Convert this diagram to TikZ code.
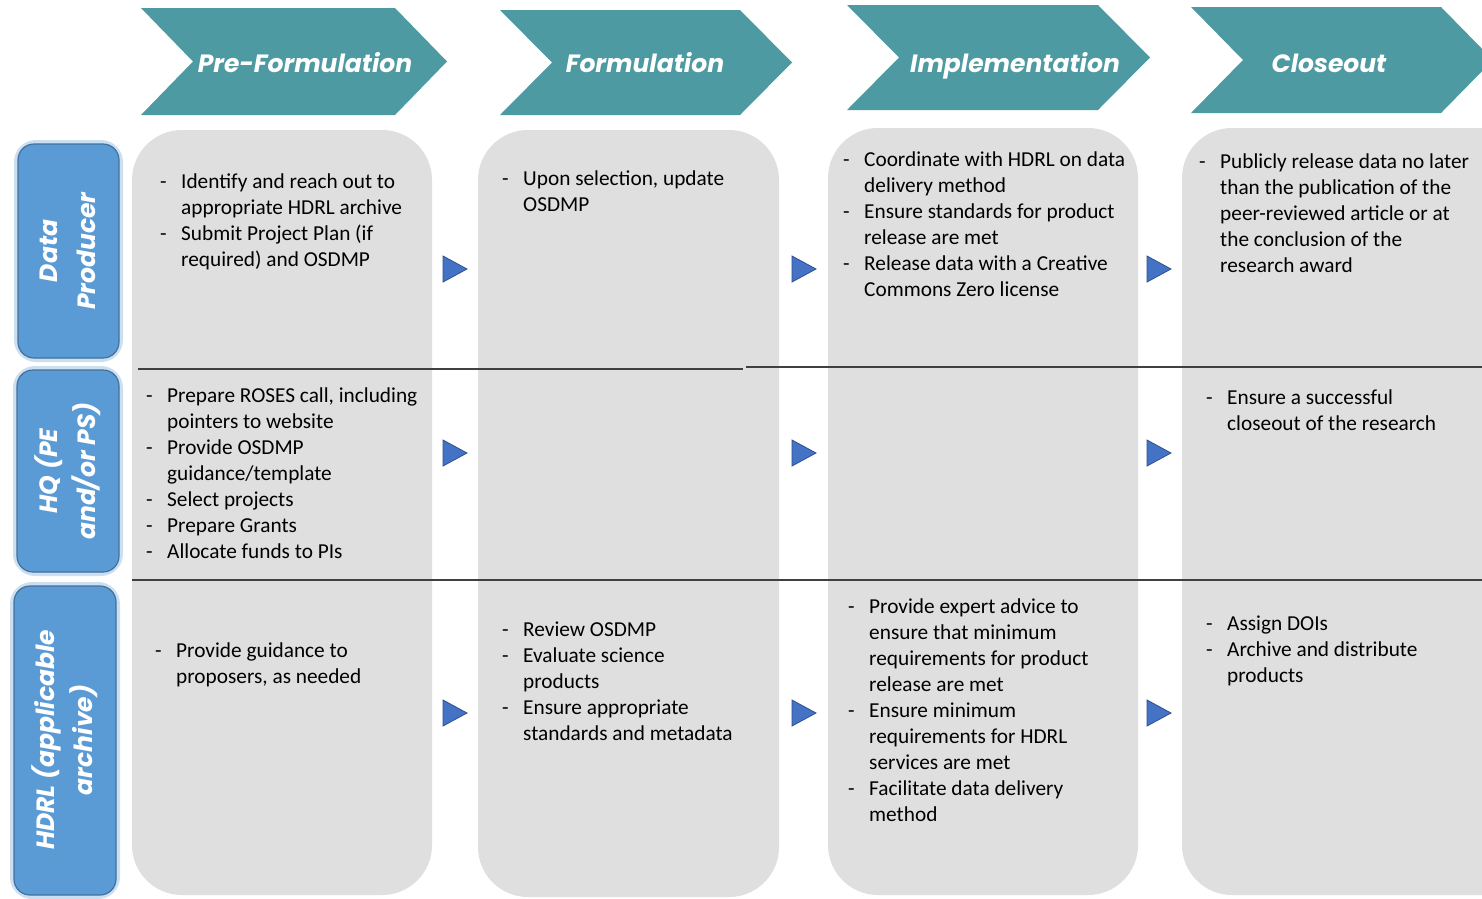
\documentclass[tikz,border=0pt]{standalone}
\usepackage{fontspec}
\setmainfont{Carlito}
\newfontfamily\headfont{Poppins}
\usetikzlibrary{calc}
\definecolor{teal1}{HTML}{4E9AA2}
\definecolor{cellgray}{HTML}{DFDFDF}
\definecolor{lblue}{HTML}{5B9BD5}
\definecolor{lbluedark}{HTML}{41719C}
\definecolor{triblue}{HTML}{4472C4}
\definecolor{tribluedark}{HTML}{2F528F}
\definecolor{rule}{HTML}{404040}
\tikzset{
  chev/.style={fill=teal1, draw=none},
  chevtext/.style={font=\headfont\bfseries\itshape\fontsize{25}{30}\selectfont, text=white, inner sep=0pt, anchor=base},
  cell/.style={fill=cellgray, draw=none, rounded corners=50pt},
  lbl/.style={fill=lblue, draw=lbluedark, line width=1.2pt, rounded corners=16pt},
  lblglow/.style={draw=lblue!45, line width=8pt, rounded corners=18pt, opacity=0.7},
  lbltext/.style={font=\headfont\bfseries\itshape\fontsize{25}{38}\selectfont, text=white, rotate=90, align=center, inner sep=0pt},
  tri/.style={fill=triblue, draw=tribluedark, line width=0.8pt, line join=miter},
  divider/.style={draw=rule, line width=1.8pt},
  items/.style={font=\fontsize{21.3}{26}\selectfont, anchor=base west, inner sep=0pt, text=black},
}
\newcommand{\itemlist}[1]{\renewcommand{\arraystretch}{1}\begin{tabular}[t]{@{}p{21pt}@{}l@{}}#1\end{tabular}}
\begin{document}
\begin{tikzpicture}[x=1pt,y=-1pt]
\useasboundingbox (0,0) rectangle (1482,898);
\fill[white] (0,0) rectangle (1482,898);
% chevrons
\newcommand{\chevron}[6]{% left notch end tip top bottom
  \path[chev] (#1,#5) -- (#3,#5) -- (#4,{(#5+#6)/2}) -- (#3,#6) -- (#1,#6) -- (#2,{(#5+#6)/2}) -- cycle;}
\chevron{141}{193}{395}{447}{8}{115}
\chevron{500}{552}{740}{792}{10}{115}
\chevron{847}{899}{1098}{1150}{5}{110}
\chevron{1191}{1243}{1441}{1493}{7}{113}
\node[chevtext] (h1) at (305,72) {Pre-Formulation};
\node[chevtext] (h2) at (645,72) {Formulation};
\node[chevtext] (h3) at (1015,72) {Implementation};
\node[chevtext] (h4) at (1329,72) {Closeout};
% columns
\path[cell] (132,130) rectangle (432,895);
\path[cell] (478,130) rectangle (779,897);
\path[cell] (828,128) rectangle (1138,895);
\path[cell] (1182,128) rectangle (1560,895);
% row labels
\draw[lblglow] (18,144) rectangle (119,358);
\draw[lbl] (18,144) rectangle (119,358);
\draw[lblglow] (17,370) rectangle (119,572);
\draw[lbl] (17,370) rectangle (119,572);
\draw[lblglow] (14,586) rectangle (116,895);
\draw[lbl] (14,586) rectangle (116,895);
\node[lbltext] (r1) at (68,251) {Data\\Producer};
\node[lbltext] (r2) at (68,471) {HQ (PE\\and/or PS)};
\node[lbltext] (r3) at (65,740) {HDRL (applicable\\archive)};
% dividers
\draw[divider] (138,369) -- (743,369);
\draw[divider] (746,367) -- (1482,367);
\draw[divider] (132,580) -- (1482,580);
% triangles
\foreach \x in {443,792,1147}{
  \foreach \y in {269,453,713}{
    \path[tri] (\x,\y-13) -- (\x+24,\y) -- (\x,\y+13) -- cycle;
  }
}
% cell texts
\node[items] (c11) at (160,188) {\itemlist{- & Identify and reach out to\\ & appropriate HDRL archive\\ - & Submit Project Plan (if\\ & required) and OSDMP}};
\node[items] (c12) at (146,402) {\itemlist{- & Prepare ROSES call, including\\ & pointers to website\\ - & Provide OSDMP\\ & guidance/template\\ - & Select projects\\ - & Prepare Grants\\ - & Allocate funds to PIs}};
\node[items] (c13) at (155,657) {\itemlist{- & Provide guidance to\\ & proposers, as needed}};
\node[items] (c21) at (502,185) {\itemlist{- & Upon selection, update\\ & OSDMP}};
\node[items] (c23) at (502,636) {\itemlist{- & Review OSDMP\\ - & Evaluate science\\ & products\\ - & Ensure appropriate\\ & standards and metadata}};
\node[items] (c31) at (843,166) {\itemlist{- & Coordinate with HDRL on data\\ & delivery method\\ - & Ensure standards for product\\ & release are met\\ - & Release data with a Creative\\ & Commons Zero license}};
\node[items] (c33) at (848,613) {\itemlist{- & Provide expert advice to\\ & ensure that minimum\\ & requirements for product\\ & release are met\\ - & Ensure minimum\\ & requirements for HDRL\\ & services are met\\ - & Facilitate data delivery\\ & method}};
\node[items] (c41) at (1199,168) {\itemlist{- & Publicly release data no later\\ & than the publication of the\\ & peer-reviewed article or at\\ & the conclusion of the\\ & research award}};
\node[items] (c42) at (1206,404) {\itemlist{- & Ensure a successful\\ & closeout of the research}};
\node[items] (c43) at (1206,630) {\itemlist{- & Assign DOIs\\ - & Archive and distribute\\ & products}};
\end{tikzpicture}
\end{document}
